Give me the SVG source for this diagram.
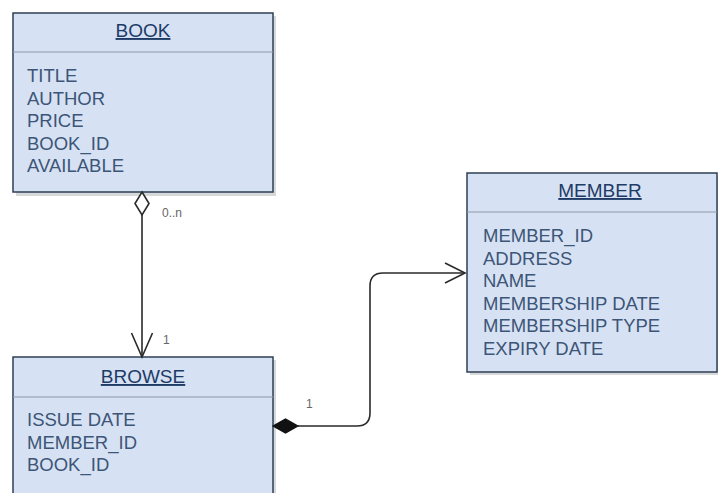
<svg xmlns="http://www.w3.org/2000/svg" width="718" height="493" viewBox="0 0 718 493">
  <style>
    .box { fill: #d6e2f4; stroke: #2e3f55; stroke-width: 1.5; }
    .shadow { fill: #8a8f96; opacity: 0.35; }
    .sep { stroke: #8d99a8; stroke-width: 1.2; }
    .title { font-family: "Liberation Sans", Arial, sans-serif; font-size: 19px; fill: #1e3b66; text-anchor: middle; text-decoration: underline; }
    .attr { font-family: "Liberation Sans", Arial, sans-serif; font-size: 18.5px; fill: #3d5576; }
    .edge { fill: none; stroke: #2a2a2a; stroke-width: 1.6; }
    .lbl { font-family: "Liberation Sans", Arial, sans-serif; font-size: 12px; fill: #666; }
  </style>
  <rect width="718" height="493" fill="#ffffff"/>

  <g id="book">
    <rect class="shadow" x="16" y="16" width="260" height="180"/>
    <rect class="box" x="13" y="13" width="260" height="179"/>
    <line class="sep" x1="13" y1="52" x2="273" y2="52"/>
    <text class="title" x="143" y="37">BOOK</text>
    <text class="attr" x="27" y="82">TITLE</text>
    <text class="attr" x="27" y="104.5">AUTHOR</text>
    <text class="attr" x="27" y="127">PRICE</text>
    <text class="attr" x="27" y="149.5">BOOK_ID</text>
    <text class="attr" x="27" y="172">AVAILABLE</text>
  </g>

  <g id="browse">
    <rect class="shadow" x="16" y="360" width="260" height="140"/>
    <rect class="box" x="13" y="357" width="260" height="140"/>
    <line class="sep" x1="13" y1="397" x2="273" y2="397"/>
    <text class="title" x="143" y="383">BROWSE</text>
    <text class="attr" x="27" y="426">ISSUE DATE</text>
    <text class="attr" x="27" y="448.5">MEMBER_ID</text>
    <text class="attr" x="27" y="471">BOOK_ID</text>
  </g>

  <g id="member">
    <rect class="shadow" x="470" y="176" width="250" height="199"/>
    <rect class="box" x="467" y="173" width="250" height="199"/>
    <line class="sep" x1="467" y1="212" x2="717" y2="212"/>
    <text class="title" x="600" y="197">MEMBER</text>
    <text class="attr" x="483" y="242">MEMBER_ID</text>
    <text class="attr" x="483" y="264.5">ADDRESS</text>
    <text class="attr" x="483" y="287">NAME</text>
    <text class="attr" x="483" y="309.5">MEMBERSHIP DATE</text>
    <text class="attr" x="483" y="332">MEMBERSHIP TYPE</text>
    <text class="attr" x="483" y="354.5">EXPIRY DATE</text>
  </g>

  <g id="connectors">
    <!-- BOOK aggregation to BROWSE -->
    <path class="edge" d="M142 215 L142 357"/>
    <path d="M142 192 L149 203.5 L142 215 L135 203.5 Z" fill="#ffffff" stroke="#2a2a2a" stroke-width="1.6"/>
    <path class="edge" d="M131.5 333 L142 357 L152.5 333"/>
    <text class="lbl" x="162" y="217">0..n</text>
    <text class="lbl" x="163" y="344">1</text>

    <!-- BROWSE composition to MEMBER -->
    <path class="edge" d="M298 426 L357 426 Q370 426 370 413 L370 286 Q370 273 383 273 L465 273"/>
    <path d="M273 426 L285.5 419 L298 426 L285.5 433 Z" fill="#111111" stroke="#111111" stroke-width="1.2"/>
    <path class="edge" d="M445 263 L465 273 L445 283"/>
    <text class="lbl" x="306" y="408">1</text>
  </g>
</svg>
